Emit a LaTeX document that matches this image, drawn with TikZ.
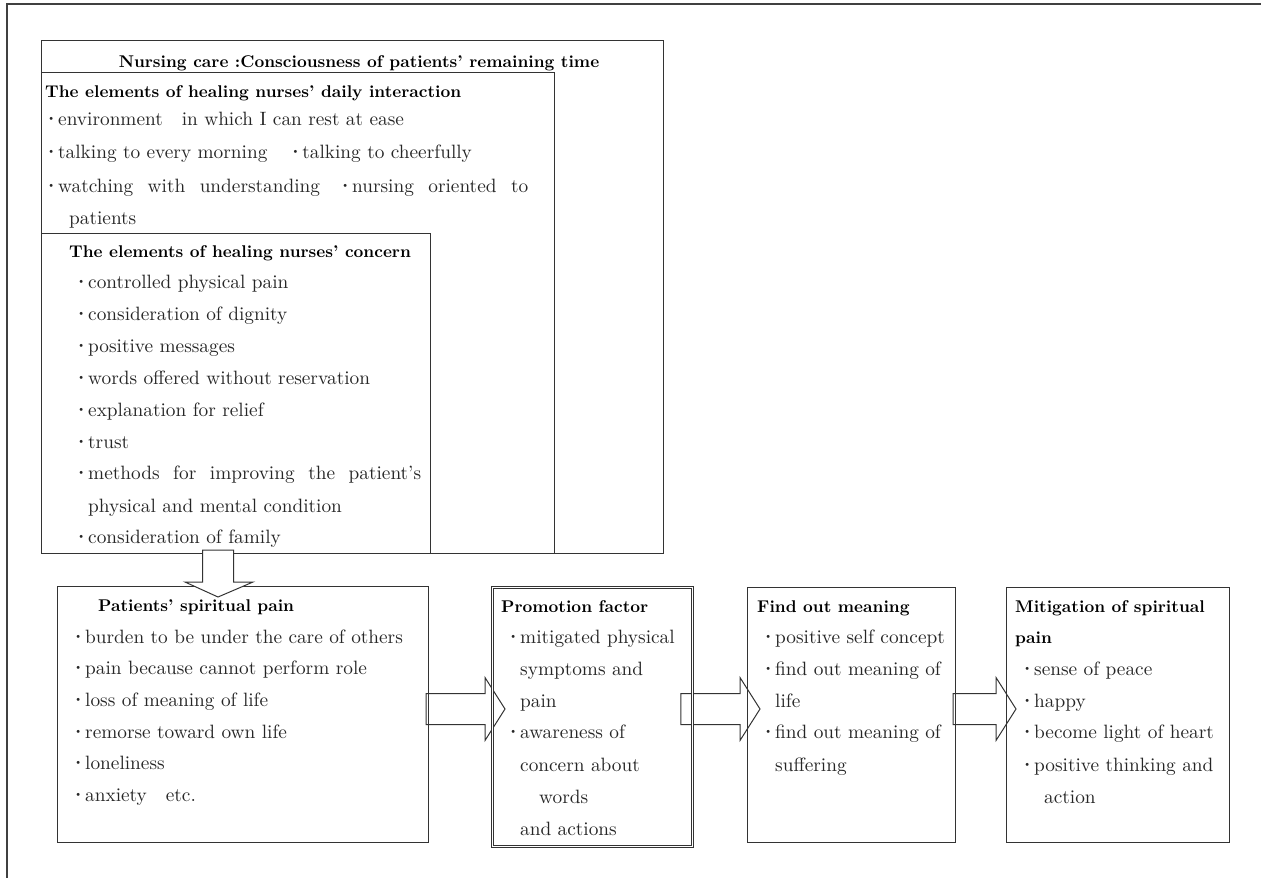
\documentclass[tikz,border=0pt]{standalone}
\usepackage{fontspec}
\setmainfont{lmroman10-regular.otf}[BoldFont=lmroman10-bold.otf]
\usetikzlibrary{calc}
\pgfdeclarelayer{bg}
\pgfsetlayers{bg,main}
\newcommand\rfont{\fontsize{19.3pt}{23pt}\selectfont}
\newcommand\bfont{\fontsize{17pt}{20pt}\selectfont\bfseries}
\newcommand\bul{\makebox[13pt][l]{\hspace{-2.5pt}\textbf{·}}}
\newcommand\rarrow[2]{\draw[blk] let \p1=(#1), \p2=(#2) in
  (\x1,\y1+15.5pt) -- (\x2-20pt,\y1+15.5pt) -- (\x2-20pt,\y1+31.5pt) -- (\x2,\y1)
  -- (\x2-20pt,\y1-31.5pt) -- (\x2-20pt,\y1-15.5pt) -- (\x1,\y1-15.5pt) -- cycle;}
\begin{document}
\begin{tikzpicture}[x=1pt,y=-1pt,
  frame/.style={draw=black!75, line width=2pt},
  box/.style={draw=black!80, line width=1.1pt, inner sep=0pt, anchor=north west},
  txt/.style={anchor=base west, inner sep=0pt, text=black!85, font=\rfont},
  ttl/.style={anchor=base west, inner sep=0pt, text=black, font=\bfont},
  blk/.style={draw=black!80, line width=1pt, fill=white, line join=miter}]
\useasboundingbox (0,0) rectangle (1261,878);
% outer frame (top and left edges only)
\coordinate (fa) at (7,878);
\coordinate (fb) at (7,4);
\coordinate (fc) at (1261,4);
\draw[frame] (fa) -- (fb) -- (fc);

% boxes
\node[box, minimum width=622pt, minimum height=513pt] (care) at (41,40) {};
\node[box, minimum width=513pt, minimum height=481pt] (daily) at (41,72) {};
\node[box, minimum width=389pt, minimum height=320pt] (concern) at (41,233) {};
\node[box, minimum width=371pt, minimum height=256pt] (pain) at (57,586) {};
\node[box, double, double distance=1.3pt, line width=0.9pt, minimum width=200pt, minimum height=259pt] (promo) at (492,587) {};
\node[box, minimum width=208pt, minimum height=255pt] (find) at (747,587) {};
\node[box, minimum width=223pt, minimum height=255pt] (mitig) at (1006,587) {};

% texts: top
\node[ttl, anchor=base] (t0) at (359,67) {Nursing care :Consciousness of patients’ remaining time};
\node[ttl] (t1) at (45,97) {The elements of healing nurses’ daily interaction};
\node[txt] (d1) at (45,125) {\bul environment\hspace{19pt}in which I can rest at ease};
\node[txt] (d2) at (45,158) {\bul talking to every morning\hspace{22pt}\bul talking to cheerfully};
\node[txt] (d3) at (45,192) {\makebox[483pt][s]{\bul watching with understanding\hspace{19pt}\bul nursing oriented to}};
\node[txt] (d4) at (69,224) {patients};

\node[ttl] (c0) at (69,257) {The elements of healing nurses’ concern};
\node[txt] (c1) at (75,288) {\bul controlled physical pain};
\node[txt] (c2) at (75,320) {\bul consideration of dignity};
\node[txt] (c3) at (75,352) {\bul positive messages};
\node[txt] (c4) at (75,384) {\bul words offered without reservation};
\node[txt] (c5) at (75,416) {\bul explanation for relief};
\node[txt] (c6) at (75,448) {\bul trust};
\node[txt] (c7) at (75,479) {\makebox[346pt][s]{\bul methods for improving the patient’s}};
\node[txt] (c8) at (88,512) {physical and mental condition};
\node[txt] (c9) at (75,543) {\bul consideration of family};

% patients' spiritual pain
\node[ttl] (s0) at (98,611) {Patients’ spiritual pain};
\node[txt] (s1) at (72,643) {\bul burden to be under the care of others};
\node[txt] (s2) at (72,674) {\bul pain because cannot perform role};
\node[txt] (s3) at (72,706) {\bul loss of meaning of life};
\node[txt] (s4) at (72,738) {\bul remorse toward own life};
\node[txt] (s5) at (72,769) {\bul loneliness};
\node[txt] (s6) at (72,801) {\bul anxiety\hspace{19pt}etc.};

% promotion factor
\node[ttl] (p0) at (501,612) {Promotion factor};
\node[txt] (p1) at (507,643) {\bul mitigated physical};
\node[txt] (p2) at (520,675) {symptoms and};
\node[txt] (p3) at (520,707) {pain};
\node[txt] (p4) at (507,738) {\bul awareness of};
\node[txt] (p5) at (520,771) {concern about};
\node[txt] (p6) at (539,803) {words};
\node[txt] (p7) at (520,835) {and actions};

% find out meaning
\node[ttl] (f0) at (757,612) {Find out meaning};
\node[txt] (f1) at (762,643) {\bul positive self concept};
\node[txt] (f2) at (762,675) {\bul find out meaning of};
\node[txt] (f3) at (775,707) {life};
\node[txt] (f4) at (762,738) {\bul find out meaning of};
\node[txt] (f5) at (775,771) {suffering};

% mitigation
\node[ttl] (m0) at (1015,612) {Mitigation of spiritual};
\node[ttl] (m0b) at (1015,643) {pain};
\node[txt] (m1) at (1021,675) {\bul sense of peace};
\node[txt] (m2) at (1021,707) {\bul happy};
\node[txt] (m3) at (1021,738) {\bul become light of heart};
\node[txt] (m4) at (1021,771) {\bul positive thinking and};
\node[txt] (m5) at (1044,803) {action};

% block arrows
\coordinate (ry) at (0,709);
\coordinate (a1s) at ($(pain.east |- ry)+(-3,0)$);
\coordinate (a1t) at ($(promo.west |- ry)+(13,0)$);
\coordinate (a2s) at ($(promo.east |- ry)+(-12,0)$);
\coordinate (a2t) at ($(find.west |- ry)+(13,0)$);
\coordinate (a3s) at ($(find.east |- ry)+(-3,0)$);
\coordinate (a3t) at ($(mitig.west |- ry)+(10,0)$);
\begin{pgfonlayer}{bg}
\rarrow{a1s}{a1t}
\rarrow{a2s}{a2t}
\rarrow{a3s}{a3t}
\end{pgfonlayer}
\coordinate (dx) at (218,0);
\coordinate (d1s) at ($(concern.south -| dx)+(0,-4)$);
\coordinate (d1t) at ($(pain.north -| dx)+(0,11)$);
\draw[blk] let \p1=(d1s), \p2=(d1t) in
  (\x1-15.5pt,\y1) -- (\x1-15.5pt,\y2+15pt) -- (\x1-33pt,\y2+15pt) -- (\x2,\y2)
  -- (\x1+35pt,\y2+15pt) -- (\x1+15.5pt,\y2+15pt) -- (\x1+15.5pt,\y1) -- cycle;
\end{tikzpicture}
\end{document}
